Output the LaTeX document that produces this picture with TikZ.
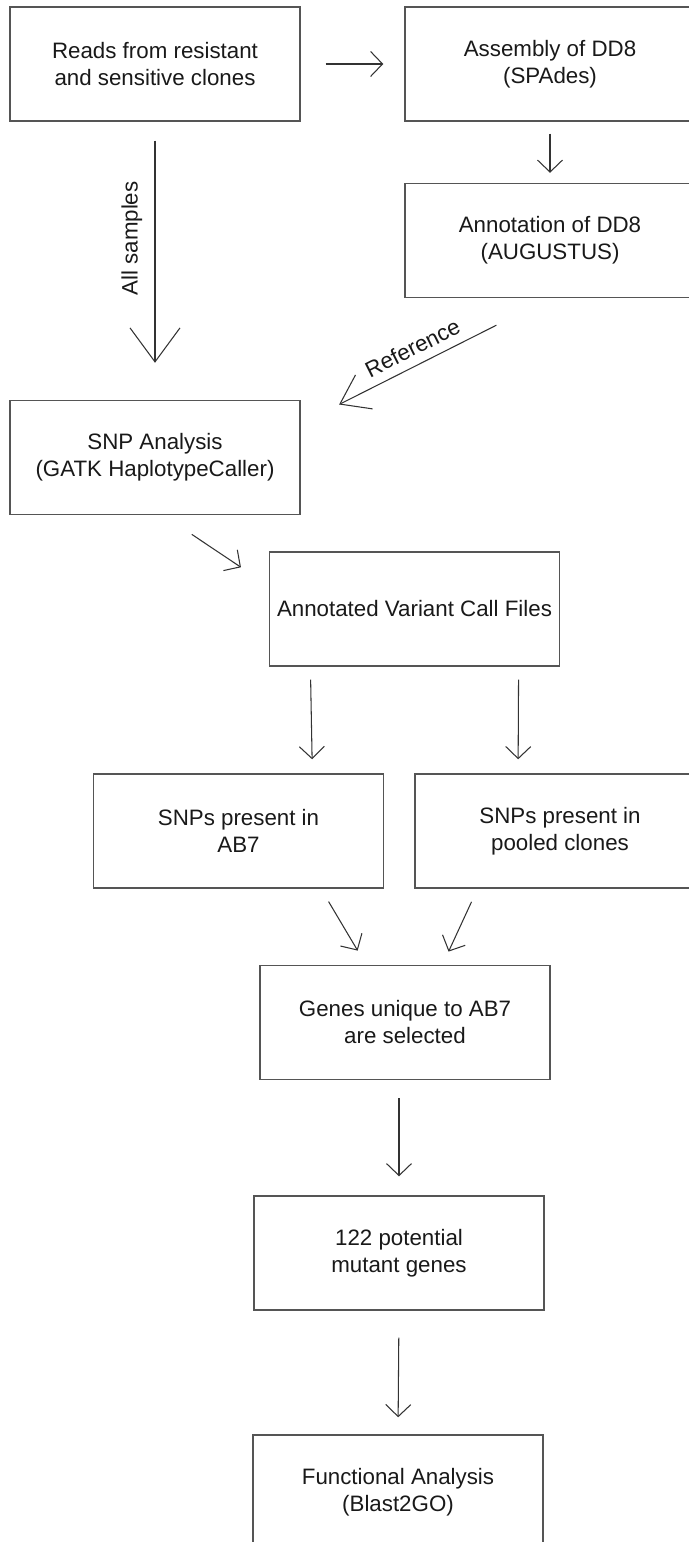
\documentclass[tikz,border=0pt]{standalone}
\usepackage{fontspec}
\setmainfont{Liberation Sans}
\usetikzlibrary{arrows.meta}
\definecolor{boxgray}{RGB}{85,85,85}
\definecolor{linegray}{RGB}{51,51,51}

\begin{document}
\begin{tikzpicture}[
  stage/.style={draw=boxgray, line width=0.8pt, minimum width=5.8cm, minimum height=2.28cm,
    inner sep=0pt, align=center, text=black!90, font=\fontsize{12.7}{15.4}\selectfont},
  flow/.style={draw=linegray, line width=0.6pt, -{Straight Barb[length=0.24cm, width=0.5cm]}},
  bigflow/.style={draw=linegray, line width=0.6pt, -{Straight Barb[length=0.68cm, width=1.0cm]}},
  tag/.style={font=\fontsize{12.7}{15.4}\selectfont, text=black!90}
]
  \useasboundingbox (0,0) rectangle (13.78,30.84);

  % Reads, assembly and annotation
  \node[stage] (reads) at (3.10,29.56) {Reads from resistant\\and sensitive clones};
  \node[stage] (asm) at (11.00,29.56) {Assembly of DD8\\(SPAdes)};
  \node[stage] (annot) at (11.00,26.03) {Annotation of DD8\\(AUGUSTUS)};

  % Variant calling
  \node[stage] (snp) at (3.10,21.69) {SNP Analysis\\(GATK HaplotypeCaller)};
  \node[stage] (vcf) at (8.29,18.66) {Annotated Variant Call Files};

  % Split into the two SNP sets
  \node[stage] (ab7) at (4.77,14.22) {SNPs present in\\AB7};
  \node[stage] (pool) at (11.20,14.22) {SNPs present in\\pooled clones};

  % Selection and follow-up
  \node[stage] (genes) at (8.10,10.39) {Genes unique to AB7\\are selected};
  \node[stage] (mut) at (7.98,5.78) {122 potential\\mutant genes};
  \node[stage] (func) at (7.96,1.00) {Functional Analysis\\(Blast2GO)};

  % Arrows
  \draw[flow, shorten <=0.5cm, shorten >=0.42cm] (reads.east) -- (asm.west);
  \draw[bigflow, shorten <=0.38cm, shorten >=0.74cm] (reads.south) --
    node[tag, pos=0.42, rotate=90, anchor=south, inner sep=7pt] {All samples} (snp.north);
  \draw[flow, shorten <=0.24cm, shorten >=0.2cm] (asm.south) -- (annot.north);
  \draw[draw=linegray, line width=0.6pt, -{Straight Barb[length=0.54cm, width=0.76cm]},
    shorten <=1.2cm, shorten >=0.86cm] (annot.south) --
    node[tag, pos=0.52, sloped, above, inner sep=5pt] {Reference} (snp.13);
  \draw[flow, shorten <=0.69cm, shorten >=0.67cm] (snp.-82) -- (vcf.171);
  \draw[flow, shorten <=0.26cm, shorten >=0.28cm] (vcf.209) -- (ab7.38);
  \draw[flow, shorten <=0.26cm, shorten >=0.28cm] (vcf.-29) -- (pool.126);
  \draw[flow, shorten <=0.3cm, shorten >=0.33cm] (ab7.-35) -- (genes.124);
  \draw[flow, shorten <=0.29cm, shorten >=0.29cm] (pool.-145.5) -- (genes.57.5);
  \draw[flow, shorten <=0.36cm, shorten >=0.38cm] (genes.south -| mut.north) -- (mut.north);
  \draw[flow, shorten <=0.54cm, shorten >=0.34cm] (mut.south) -- (func.north);
\end{tikzpicture}
\end{document}
